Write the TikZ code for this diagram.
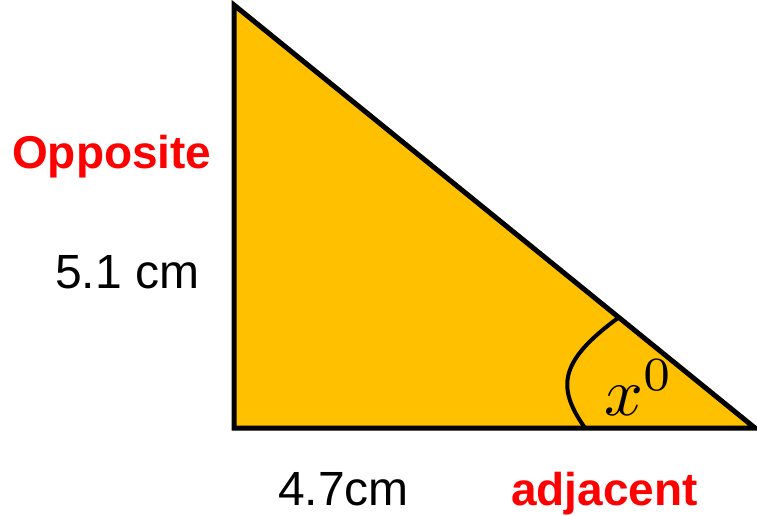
\documentclass[tikz,border=0pt]{standalone}
\usepackage{graphicx}
\usepackage{fontspec}
\setmainfont{Liberation Sans}
\definecolor{gold}{HTML}{FFC000}
\definecolor{lblred}{HTML}{FF0000}
\begin{document}
\begin{tikzpicture}[x=1pt,y=-1pt,
  edge/.style={line width=5pt, line join=miter},
  redlbl/.style={font=\fontsize{46}{50}\selectfont\bfseries, text=lblred, inner sep=0pt, anchor=base west},
  blklbl/.style={font=\fontsize{48}{50}\selectfont, text=black, inner sep=0pt, anchor=base west}]
\useasboundingbox (0,0) rectangle (757,515);
\coordinate (A) at (234,5);
\coordinate (B) at (234,428);
\coordinate (C) at (755,428);
\coordinate (P) at (585,428);
\coordinate (Q) at (618,318);
\fill[gold] (A) -- (B) -- (C) -- cycle;
\draw[line width=4pt] (P) .. controls (557,388) and (558,362) .. (Q);
\draw[edge] (A) -- (B) -- (C) -- cycle;
\node[redlbl] (opp) at (12,168) {Opposite};
\node[blklbl] (five) at (55,288) {5.1 cm};
\node[blklbl] (four) at (278,505) {4.7cm};
\node[redlbl] (adj) at (511,505) {adjacent};
\node[inner sep=0pt, anchor=base west] (ang) at (604,415) {\scalebox{6.8}{$x^0$}};
\end{tikzpicture}
\end{document}
